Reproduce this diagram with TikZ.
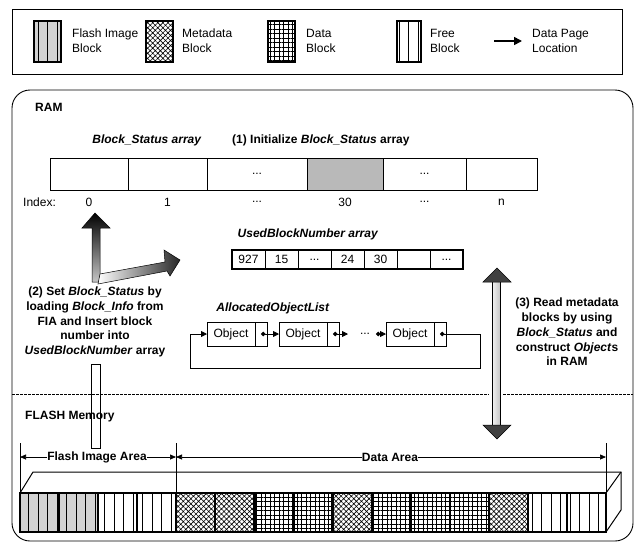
\documentclass[tikz,border=0pt]{standalone}
\usepackage{fontspec}
\setmainfont{Liberation Sans}
\usetikzlibrary{positioning, arrows.meta, patterns.meta, calc}

\newcommand\ddd{...}

\tikzset{
  lbl/.style={font=\fontsize{12}{14.8}\selectfont\bfseries, align=center, inner sep=0pt},
  txt/.style={font=\fontsize{12}{14.8}\selectfont, align=left, inner sep=0pt},
  bscell/.style={draw, line width=0.8pt, minimum height=32pt, inner sep=0pt, outer sep=0pt, font=\fontsize{12}{14}\selectfont},
  ubcell/.style={draw, line width=0.8pt, minimum width=33pt, minimum height=19pt, inner sep=0pt, outer sep=0pt, font=\fontsize{12}{14}\selectfont},
  objbox/.style={draw, line width=0.8pt, minimum width=48pt, minimum height=24pt, inner sep=0pt, outer sep=0pt, font=\fontsize{12}{14}\selectfont},
  ptrbox/.style={objbox, minimum width=12pt},
  link/.style={line width=0.8pt, {Circle[length=4.5pt]}-{Triangle[length=6pt,width=6pt]}},
  dimline/.style={line width=0.7pt, -{Triangle[length=6pt,width=5pt]}},
  sepline/.style={line width=1pt, dash pattern=on 2.5pt off 1.5pt},
  blk/.style={line width=2.2pt},
  fiblock/.style={fill=gray!35, postaction={pattern={Lines[angle=90,distance=9.5pt,line width=0.7pt]}}},
  freeblock/.style={fill=white, postaction={pattern={Lines[angle=90,distance=9.5pt,line width=0.7pt]}}},
  metablock/.style={fill=white, postaction={pattern={Hatch[angle=45,distance=3.6pt,line width=0.6pt]}}},
  datablock/.style={fill=white, postaction={pattern={Hatch[angle=0,distance=4.5pt,line width=0.5pt]}}}
}

\begin{document}
\begin{tikzpicture}[x=1pt, y=-1pt]
  \useasboundingbox (0,0) rectangle (634,542);

  % legend
  \draw[line width=0.9pt] (12,9) rectangle (622,74);
  \draw[fiblock, blk] (34,21) rectangle (61,62);
  \node[txt, anchor=west] (lgfi) at (72,41) {Flash Image\\Block};
  \draw[metablock, blk] (146,21) rectangle (173,62);
  \node[txt, anchor=west] (lgmd) at (182,41) {Metadata\\Block};
  \draw[datablock, blk] (268,21) rectangle (295,62);
  \node[txt, anchor=west] (lgda) at (306,41) {Data\\Block};
  \draw[freeblock, blk] (397,21) rectangle (421,62);
  \node[txt, anchor=west] (lgfr) at (430,41) {Free\\Block};
  \coordinate (lga) at (494,41);
  \coordinate (lgb) at (522,41);
  \draw[line width=1.6pt, -{Triangle[length=8pt,width=8pt]}] (lga) -- (lgb);
  \node[txt, anchor=west] (lgdp) at (532,41) {Data Page\\Location};

  % RAM
  \draw[line width=0.9pt, rounded corners=18pt] (12,90) rectangle (633,541);
  \draw[sepline] (12,394) -- (489,394);
  \draw[sepline] (503,394) -- (633,394);
  \node[lbl, anchor=west] (ram) at (35,107) {RAM};
  \node[lbl] (bstitle) at (147,140) {\textit{Block\_Status array}};
  \node[lbl, anchor=west] (init) at (232,140) {(1) Initialize \textit{Block\_Status} array};
  \foreach \n/\l/\r/\t/\c in {0/50/128//white,1/128/207//white,2/207/307/\ddd/white,3/307/383//gray!55,4/383/466/\ddd/white,5/466/537//white}
    \node[bscell, fill=\c, minimum width={(\r-\l)*1pt}] (bs\n) at ({(\l+\r)/2},174) {\t};
  \node[txt, anchor=west] (idx) at (23,202) {Index:};
  \foreach \n/\t in {0/0,1/1,2/\ddd,3/30,4/\ddd,5/n}
    \node[txt] (ix\n) at (bs\n |- idx) {\t};

  \node[lbl] (ubtitle) at (308,234) {\textit{UsedBlockNumber array}};
  \foreach \t [count=\i from 0] in {927,15,\ddd,24,30,{},\ddd}
    \node[ubcell] (ub\i) at ({248.5+33*\i},259.5) {\t};
  \draw[line width=1.4pt] (ub0.north west) rectangle (ub6.south east);

  % step (2)
  \shadedraw[line width=0.5pt, top color=black, bottom color=gray!45] (95,213) -- (110,228) -- (100,228) -- (100,282) -- (92,282) -- (92,228) -- (82,228) -- cycle;
  \shadedraw[line width=0.5pt, left color=white, middle color=gray!25, right color=black!85] (98,284) -- (100,274) -- (165,262) -- (164,250) -- (180,260) -- (170,276) -- (167,271) -- cycle;
  \node[lbl] (step2) at (95,322) {(2) Set \textit{Block\_Status} by\\loading \textit{Block\_Info} from\\FIA and Insert block\\number into\\\textit{UsedBlockNumber} array};
  \draw[line width=0.6pt] (91,364) rectangle (100,448);

  % object list
  \node[lbl] (aoltitle) at (273,308) {\textit{AllocatedObjectList}};
  \node[objbox] (obj1) at (231,334) {Object};
  \node[ptrbox, right=0pt of obj1] (obj1p) {};
  \node[objbox] (obj2) at (303,334) {Object};
  \node[ptrbox, right=0pt of obj2] (obj2p) {};
  \node[txt] (odots) at (365,334) {\ddd};
  \node[objbox] (obj3) at (410,334) {Object};
  \node[ptrbox, right=0pt of obj3] (obj3p) {};
  \coordinate (o2end) at (348,334);
  \coordinate (o3start) at (376,334);
  \draw[link] (obj1p.center) -- (obj2.west);
  \draw[link] (obj2p.center) -- (o2end);
  \draw[link] (o3start) -- (obj3.west);
  \draw[link] (obj3p.center) -| (480,368) -| (190,334) -- (obj1.west);

  % step (3)
  \fill[left color=gray!10, right color=gray!45] (492,280) rectangle (500,427);
  \draw[line width=0.5pt] (492,282) -- (492,425) (500,282) -- (500,425);
  \filldraw[line width=0.5pt, fill=black!75] (497,268) -- (511,282) -- (483,282) -- cycle;
  \filldraw[line width=0.5pt, fill=black!75] (497,439) -- (511,425) -- (483,425) -- cycle;
  \node[lbl] (step3) at (567,332) {(3) Read metadata\\blocks by using\\\textit{Block\_Status} and\\construct \textit{Object}s\\in RAM};

  % FLASH
  \node[lbl, anchor=west] (flash) at (25,417) {FLASH Memory};
  \coordinate (d0) at (20,457);
  \coordinate (d1) at (176,457);
  \coordinate (d2) at (606,457);
  \foreach \d in {d0,d1,d2}
    \draw[line width=0.8pt] ($(\d)+(0,-14)$) -- ($(\d)+(0,36)$);
  \node[lbl] (fia) at (97,457) {Flash Image Area};
  \node[lbl] (dta) at (390,457) {Data Area};
  \draw[dimline] (fia.west) -- (d0);
  \draw[dimline] (fia.east) -- (d1);
  \draw[dimline] (dta.west) -- (d1);
  \draw[dimline] (dta.east) -- (d2);
  \draw[line width=1pt] (20,493) -- (33,472) -- (621,472) -- (621,510) -- (606,532);
  \draw[line width=1pt] (606,493) -- (621,472);
  \foreach \s [count=\i from 0] in {fiblock,fiblock,freeblock,freeblock,metablock,metablock,datablock,datablock,metablock,datablock,datablock,datablock,metablock,freeblock,freeblock}
    \draw[\s, blk] ({20+\i*39.07},493) rectangle ++(39.07,39);
\end{tikzpicture}
\end{document}
